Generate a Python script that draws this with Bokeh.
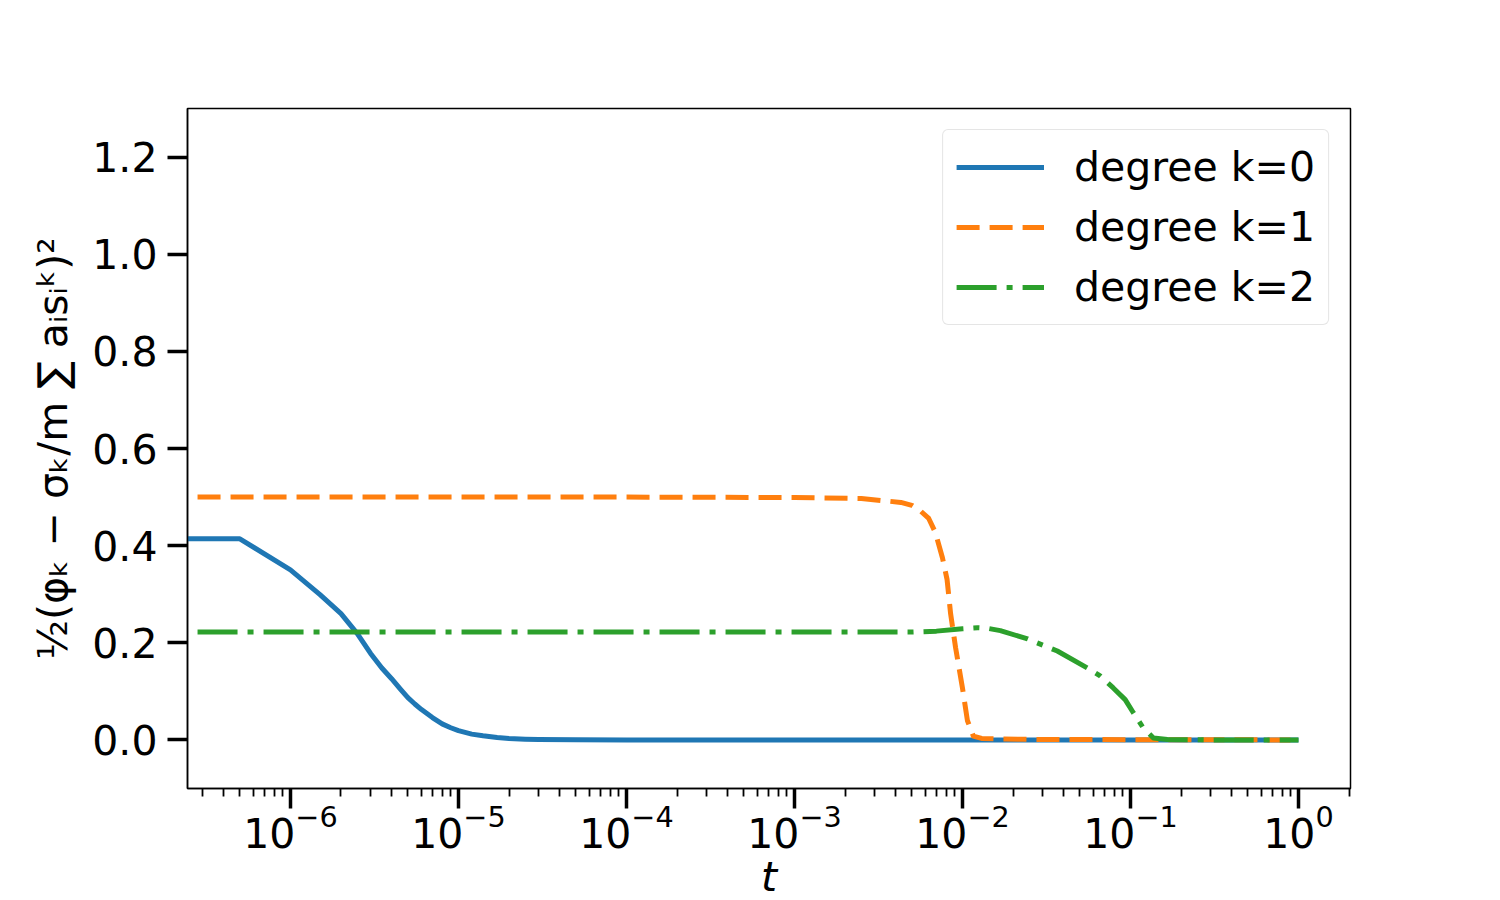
from bokeh.plotting import figure
from bokeh.models import (Range1d, FixedTicker, PrintfTickFormatter, Legend, LegendItem,
                          LogTickFormatter, Title)
from bokeh.embed import file_html
from bokeh.resources import INLINE

# ---- data ----
t_k0 = [2.0e-7, 5e-7, 1e-6, 1.5e-6, 2e-6, 2.5e-6, 3e-6, 3.5e-6, 4e-6, 4.5e-6, 5e-6, 5.5e-6,
        6e-6, 7e-6, 8e-6, 9e-6, 1e-5, 1.2e-5, 1.4e-5, 1.7e-5, 2e-5, 2.5e-5, 3e-5, 5e-5,
        1e-4, 1e-3, 1e-2, 1e-1, 1.0]
v_k0 = [0.414, 0.414, 0.350, 0.299, 0.26, 0.219, 0.178, 0.148, 0.126, 0.105, 0.087, 0.074,
        0.063, 0.046, 0.033, 0.025, 0.019, 0.012, 0.0085, 0.005, 0.003, 0.0015, 0.0008, 0.0002,
        0.0, 0.0, 0.0, 0.0, 0.0]

t_k1 = [2.8e-7, 1e-6, 1e-5, 1e-4, 1e-3, 2.5e-3, 4.3e-3, 5.0e-3, 5.6e-3, 6.3e-3, 6.9e-3,
        7.6e-3, 8.1e-3, 8.5e-3, 9.1e-3, 1.0e-2, 1.07e-2, 1.16e-2, 1.3e-2, 1.6e-2, 3e-2, 1e-1, 1.0]
v_k1 = [0.5, 0.5, 0.5, 0.5, 0.499, 0.497, 0.489, 0.483, 0.472, 0.456, 0.427,
        0.375, 0.33, 0.26, 0.19, 0.107, 0.04, 0.008, 0.003, 0.002, 0.001, 0.0005, 0.0]

t_k2 = [2.8e-7, 1e-6, 1e-5, 1e-4, 1e-3, 5e-3, 7e-3, 1e-2, 1.23e-2, 1.4e-2, 1.68e-2, 2.44e-2,
        3.67e-2, 5.55e-2, 6.6e-2, 7.9e-2, 0.093, 0.104, 0.118, 0.137, 0.166, 0.3, 1.0]
v_k2 = [0.222, 0.222, 0.222, 0.222, 0.222, 0.222, 0.224, 0.229, 0.231, 0.230, 0.225, 0.208,
        0.183, 0.148, 0.132, 0.107, 0.083, 0.056, 0.027, 0.004, 0.001, 0.0, 0.0]

labels = ["degree k=0", "degree k=1", "degree k=2"]
x_major = [1e-6, 1e-5, 1e-4, 1e-3, 1e-2, 1e-1, 1.0]
y_major = [0.0, 0.2, 0.4, 0.6, 0.8, 1.0, 1.2]
x_lo, x_hi = 2.44e-7, 2.04
y_lo, y_hi = -0.1, 1.3

FONT = "DejaVu Sans"

p = figure(width=1500, height=900, x_axis_type="log",
           x_range=Range1d(x_lo, x_hi), y_range=Range1d(y_lo, y_hi),
           output_backend="svg", toolbar_location=None,
           min_border_left=187, min_border_right=150,
           min_border_top=108, min_border_bottom=0)
p.background_fill_color = "white"
p.border_fill_color = "white"
p.outline_line_color = "black"
p.outline_line_width = 1.5
p.xgrid.visible = False
p.ygrid.visible = False

r0 = p.line(t_k0, v_k0, line_color="#1f77b4", line_width=5, line_join="round")
r1 = p.line(t_k1, v_k1, line_color="#ff7f0e", line_width=5, line_dash="23 10", line_join="round")
r2 = p.line(t_k2, v_k2, line_color="#2ca02c", line_width=5, line_dash="40 10 6 10", line_join="round")

minor = [m * 10.0 ** e for e in range(-7, 1) for m in range(2, 10)]
p.xaxis.ticker = FixedTicker(ticks=x_major, minor_ticks=minor)
p.xaxis.formatter = LogTickFormatter()
p.yaxis.ticker = FixedTicker(ticks=y_major, minor_ticks=[])
p.yaxis.formatter = PrintfTickFormatter(format="%.1f")

for ax in (p.xaxis[0], p.yaxis[0]):
    ax.major_tick_out = 20
    ax.major_tick_in = 0
    ax.minor_tick_out = 8
    ax.minor_tick_in = 0
    ax.major_tick_line_width = 3.5
    ax.minor_tick_line_width = 1.8
    ax.axis_line_width = 1.5
    ax.major_label_text_font = FONT
    ax.major_label_text_font_size = "41px"
    ax.major_label_text_color = "black"
    ax.axis_label_text_font = FONT
    ax.axis_label_text_font_size = "41px"
    ax.axis_label_text_color = "black"

p.xaxis.major_label_standoff = -4
p.yaxis.major_label_standoff = 10
p.yaxis.axis_label = "½(φₖ − σₖ/m ∑ aᵢsᵢᵏ)²"
p.yaxis.axis_label_text_font_style = "normal"
p.yaxis.axis_label_standoff = 12

# x-axis title "t" in the panel below the axis
p.add_layout(Title(text="t", align="center", text_font=FONT, text_font_size="41px",
                   text_font_style="italic", text_color="black", standoff=0, offset=0),
             "below")

legend = Legend(items=[LegendItem(label=labels[0], renderers=[r0]),
                       LegendItem(label=labels[1], renderers=[r1]),
                       LegendItem(label=labels[2], renderers=[r2])],
                location="top_right")
legend.label_text_font = FONT
legend.label_text_font_size = "41px"
legend.label_text_color = "black"
legend.glyph_width = 88
legend.glyph_height = 40
legend.label_standoff = 30
legend.spacing = 12
legend.padding = 13
legend.margin = 21
legend.border_line_color = "#cccccc"
legend.border_line_width = 1.5
legend.border_radius = 6
legend.background_fill_alpha = 0.8
p.add_layout(legend)

open("out.html", "w").write(file_html(p, INLINE))
